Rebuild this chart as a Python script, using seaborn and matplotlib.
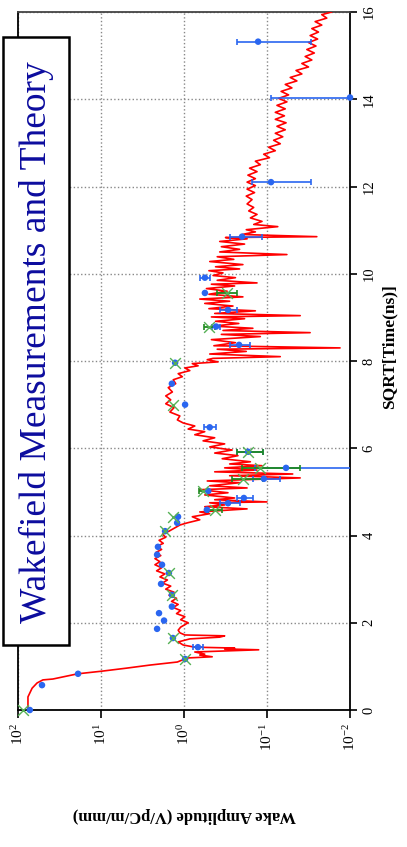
import numpy as np
import pandas as pd
import matplotlib
matplotlib.use("Agg")
import matplotlib.pyplot as plt
import seaborn as sns
from matplotlib.patches import Rectangle
from matplotlib.ticker import NullLocator

# ---------------- data ----------------
# theory curve: time axis (sqrt ns) and log10 of wake amplitude
theory_time = [
    0.00, 0.30, 0.50, 0.62, 0.69, 0.71, 0.83, 0.89, 0.96, 1.03, 1.10, 1.17,
    1.19, 1.22, 1.26, 1.28, 1.33, 1.38, 1.40, 1.42, 1.44, 1.49, 1.56, 1.63,
    1.67, 1.70, 1.72, 1.77, 1.83, 1.90, 2.00,
    2.07, 2.14, 2.21, 2.28, 2.35, 2.42, 2.49, 2.56, 2.63, 2.70, 2.77, 2.84,
    2.91, 2.98, 3.05, 3.12, 3.19, 3.26, 3.33, 3.40, 3.47, 3.54, 3.61, 3.68,
    3.75, 3.82, 3.89, 3.96, 4.03, 4.10,
    4.24, 4.29, 4.36, 4.43, 4.50, 4.54, 4.61, 4.66, 4.70, 4.75, 4.77, 4.82,
    4.86, 4.93, 4.98, 5.05, 5.09, 5.14, 5.21, 5.25, 5.32, 5.37, 5.41, 5.46,
    5.50, 5.55, 5.60, 5.64, 5.69, 5.76, 5.83, 5.89, 5.96, 6.03, 6.10, 6.17,
    6.24, 6.31, 6.38, 6.44, 6.51,
    6.58, 6.65, 6.74, 6.83, 6.93, 7.02, 7.11, 7.20, 7.29, 7.39, 7.48, 7.57,
    7.64, 7.71, 7.78, 7.84, 7.89, 7.94, 7.98, 8.03,
    8.06, 8.10, 8.16, 8.22, 8.27, 8.30, 8.35, 8.42, 8.49, 8.56, 8.61, 8.65,
    8.70, 8.75, 8.80, 8.86, 8.91, 8.97, 9.01, 9.04, 9.09, 9.15, 9.20, 9.26,
    9.32, 9.37, 9.42, 9.47, 9.53, 9.60, 9.66, 9.72, 9.76, 9.79, 9.85, 9.91,
    9.96, 10.02, 10.07, 10.11, 10.16, 10.21, 10.28, 10.33, 10.39, 10.44, 10.50, 10.56,
    10.62, 10.68, 10.74, 10.80, 10.83, 10.85, 10.90, 10.96, 11.01, 11.08, 11.13, 11.20,
    11.28, 11.36, 11.44, 11.52, 11.60, 11.70,
    11.78, 11.86, 11.94, 12.02, 12.10, 12.18, 12.26, 12.34, 12.42, 12.50, 12.58, 12.66,
    12.74, 12.82, 12.90, 12.98, 13.06, 13.14, 13.22, 13.30, 13.38, 13.46, 13.54, 13.62,
    13.70, 13.78, 13.86, 13.94, 14.02, 14.10, 14.18, 14.26, 14.34, 14.42, 14.50, 14.58,
    14.66, 14.74, 14.82, 14.90, 14.98, 15.06, 15.14, 15.22, 15.30, 15.38, 15.46, 15.54,
    15.62, 15.70, 15.78, 15.86, 15.94, 16.00,
]
theory_log10_amp = [
    1.88, 1.88, 1.83, 1.77, 1.70, 1.58, 1.28, 0.99, 0.69, 0.41, 0.08, -0.01,
    -0.01, -0.34, -0.19, -0.25, -0.13, -0.90, -0.49, -0.61, -0.13, 0.01, 0.07, -0.07,
    -0.43, -0.49, -0.01, 0.05, 0.07, 0.04, -0.05,
    0.04, -0.01, 0.09, 0.04, 0.13, 0.07, 0.15, 0.09, 0.18, 0.12, 0.22, 0.16,
    0.26, 0.20, 0.29, 0.23, 0.33, 0.27, 0.35, 0.29, 0.35, 0.28, 0.34, 0.27,
    0.33, 0.25, 0.30, 0.22, 0.26, 0.18,
    0.05, -0.04, -0.19, -0.10, -0.31, -0.19, -0.76, -0.25, -0.49, -0.31, -1.00, -0.37,
    -0.61, -0.25, -0.53, -0.19, -0.76, -0.31, -0.67, -0.28, -1.40, -0.55, -1.31, -0.37,
    -0.88, -0.49, -0.94, -0.55, -0.80, -0.46, -0.65, -0.37, -0.58, -0.31, -0.49, -0.23,
    -0.37, -0.13, -0.25, -0.05, -0.13,
    0.01, 0.08, 0.05, 0.17, 0.12, 0.22, 0.16, 0.22, 0.14, 0.19, 0.10, 0.13,
    0.02, 0.07, -0.07, -0.01, -0.17, -0.10, -0.41, -0.28,
    -0.35, -1.16, -0.31, -0.75, -0.40, -1.88, -0.36, -0.62, -0.33, -0.92, -0.45, -1.52,
    -0.47, -0.83, -0.35, -0.66, -0.38, -0.73, -0.33, -1.40, -0.37, -0.86, -0.30, -0.59,
    -0.25, -0.55, -0.19, -0.71, -0.30, -0.52, -0.27, -0.61, -0.33, -0.88, -0.40, -0.62,
    -0.35, -0.47, -0.30, -0.67, -0.38, -0.71, -0.31, -0.60, -0.40, -1.24, -0.43, -0.67,
    -0.45, -0.73, -0.43, -0.76, -0.50, -1.60, -0.70, -0.86, -0.75, -1.13, -0.84, -0.94,
    -0.80, -0.88, -0.78, -0.84, -0.76, -0.82,
    -0.75, -0.85, -0.76, -0.86, -0.76, -0.86, -0.77, -0.88, -0.79, -0.92, -0.86, -1.03,
    -0.96, -1.10, -1.02, -1.16, -1.08, -1.19, -1.10, -1.22, -1.12, -1.23, -1.10, -1.21,
    -1.10, -1.22, -1.12, -1.24, -1.14, -1.26, -1.17, -1.30, -1.22, -1.36, -1.28, -1.42,
    -1.35, -1.50, -1.42, -1.54, -1.46, -1.57, -1.48, -1.59, -1.50, -1.61, -1.52, -1.62,
    -1.54, -1.66, -1.58, -1.72, -1.66, -1.78,
]

# measurement set 1 (blue dots)
meas_time = [0.00, 0.57, 0.83, 1.17, 1.44, 1.65, 1.86, 2.05, 2.22, 2.37, 2.64, 2.89,
             3.14, 3.33, 3.56, 3.74, 4.10, 4.29, 4.43, 4.59, 4.74, 4.86, 5.02, 5.30,
             5.55, 5.92, 6.48, 7.00, 7.48, 7.96, 8.37, 8.79, 9.17, 9.56, 9.91, 10.85,
             12.10, 14.04, 15.32]
meas_amp = [72, 51.4, 18.9, 0.97, 0.68, 1.36, 2.11, 1.74, 2.0, 1.40, 1.40, 1.89,
            1.52, 1.84, 2.11, 2.06, 1.69, 1.21, 1.18, 0.53, 0.295, 0.19, 0.51, 0.109,
            0.059, 0.169, 0.49, 0.97, 1.40, 1.28, 0.217, 0.41, 0.295, 0.56, 0.56, 0.20,
            0.0895, 0.010, 0.128]
meas_amp_high = [72, 51.4, 18.9, 0.97, 0.78, 1.36, 2.11, 1.74, 2.0, 1.40, 1.40, 1.89,
                 1.52, 1.84, 2.11, 2.06, 1.69, 1.21, 1.18, 0.53, 0.37, 0.23, 0.51, 0.148,
                 0.14, 0.23, 0.57, 0.97, 1.40, 1.28, 0.279, 0.46, 0.37, 0.56, 0.64, 0.279,
                 0.152, 0.0895, 0.23]
meas_amp_low = [72, 51.4, 18.9, 0.97, 0.59, 1.36, 2.11, 1.74, 2.0, 1.40, 1.40, 1.89,
                1.52, 1.84, 2.11, 2.06, 1.69, 1.21, 1.18, 0.53, 0.21, 0.148, 0.51, 0.070,
                0.005, 0.112, 0.41, 0.97, 1.40, 1.28, 0.160, 0.37, 0.23, 0.56, 0.49, 0.115,
                0.0295, 0.001, 0.0295]

# measurement set 2 (green crosses)
alt_time = [0.00, 1.17, 1.65, 2.64, 3.14, 4.10, 4.43, 4.59, 5.02, 5.30, 5.55, 5.92,
            7.00, 7.96, 8.79, 9.56]
alt_amp = [87, 0.97, 1.36, 1.40, 1.52, 1.69, 1.36, 0.42, 0.59, 0.195, 0.121, 0.169,
           1.36, 1.28, 0.50, 0.30]
alt_amp_high = [87, 0.97, 1.36, 1.40, 1.52, 1.69, 1.36, 0.51, 0.66, 0.264, 0.20, 0.23,
                1.36, 1.28, 0.57, 0.40]
alt_amp_low = [87, 0.97, 1.36, 1.40, 1.52, 1.69, 1.36, 0.35, 0.52, 0.112, 0.040, 0.112,
               1.36, 1.28, 0.42, 0.23]

amp_ticks = [100, 10, 1, 0.1, 0.01]
time_ticks = [0, 2, 4, 6, 8, 10, 12, 14, 16]

title_text = "Wakefield Measurements and Theory"
amp_label = "Wake Amplitude (V/pC/m/mm)"
time_label = "SQRT[Time(ns)]"

# ---------------- style ----------------
sns.set_theme(style="white")
plt.rcParams['font.family'] = ['Liberation Serif', 'DejaVu Serif']
plt.rcParams['mathtext.fontset'] = 'custom'
plt.rcParams['mathtext.rm'] = 'Liberation Serif'
plt.rcParams['mathtext.it'] = 'Liberation Serif:italic'
plt.rcParams['mathtext.bf'] = 'Liberation Serif:bold'

BLUE = "#2a66f0"
GREEN_BAR = "#1f8a1f"
GREEN_X = "#55b055"

W, H = 407, 847
fig = plt.figure(figsize=(W / 100, H / 100), dpi=100)
fig.patch.set_facecolor("white")
ax = fig.add_axes([18 / W, 1 - 710 / H, 332 / W, 698 / H])

theory = pd.DataFrame({"t": theory_time,
                       "amp": 10 ** np.array(theory_log10_amp)})
sns.lineplot(data=theory, x="amp", y="t", sort=False, estimator=None,
             orient="y", color="red", linewidth=1.2, ax=ax, zorder=3)

m_t = np.array(meas_time); m_a = np.array(meas_amp)
m_hi = np.array(meas_amp_high); m_lo = np.array(meas_amp_low)
mask = (m_hi != m_a) | (m_lo != m_a)
ax.errorbar(m_a[mask], m_t[mask], xerr=[m_a[mask] - m_lo[mask], m_hi[mask] - m_a[mask]],
            fmt="none", ecolor=BLUE, elinewidth=1.2, capsize=2.5, capthick=1.2, zorder=4)

g_t = np.array(alt_time); g_a = np.array(alt_amp)
g_hi = np.array(alt_amp_high); g_lo = np.array(alt_amp_low)
gmask = (g_hi != g_a) | (g_lo != g_a)
ax.errorbar(g_a[gmask], g_t[gmask], xerr=[g_a[gmask] - g_lo[gmask], g_hi[gmask] - g_a[gmask]],
            fmt="none", ecolor=GREEN_BAR, elinewidth=1.3, capsize=2.5, capthick=1.2, zorder=4)

meas = pd.DataFrame({"t": meas_time, "amp": meas_amp})
sns.scatterplot(data=meas, x="amp", y="t", color=BLUE, marker="o", s=22,
                edgecolor="none", ax=ax, zorder=5, clip_on=False)
alt = pd.DataFrame({"t": alt_time, "amp": alt_amp})
sns.scatterplot(data=alt, x="amp", y="t", color=GREEN_X, marker="x", s=60,
                linewidth=1.0, ax=ax, zorder=6, clip_on=False)

ax.set_xscale("log")
ax.set_xlim(100, 0.01)
ax.set_ylim(0, 16)
ax.set_xticks(amp_ticks)
ax.xaxis.set_minor_locator(NullLocator())
ax.set_yticks(time_ticks)
ax.yaxis.tick_right()
ax.set_xlabel("")
ax.set_ylabel("")
ax.grid(True, which="major", linestyle=":", color="#888888", linewidth=1.0)
ax.tick_params(axis="x", direction="out", length=6, width=1.2, labelrotation=90,
               pad=3, labelsize=11, colors="black", bottom=True)
ax.tick_params(axis="y", direction="out", length=5, width=1.2, labelrotation=90,
               pad=4, labelsize=10.5, colors="black", right=True, left=False)
for lab in ax.get_yticklabels():
    lab.set_verticalalignment("center")
for sp in ax.spines.values():
    sp.set_visible(True)
    sp.set_color("black")
    sp.set_linewidth(1.3)
ax.spines["top"].set_color("#444444")

# axis titles (rotated like the reference)
fig.text(184 / W, 1 - 815 / H, amp_label, rotation=180, ha="center", va="center",
         fontsize=12, fontweight="bold", color="black")
fig.text(389 / W, 1 - 347 / H, time_label, rotation=90, ha="center", va="center",
         fontsize=12.5, fontweight="bold", color="black")

# title box
rect = Rectangle((3 / W, 1 - 645 / H), 66 / W, 608 / H, transform=fig.transFigure,
                 facecolor="white", edgecolor="black", linewidth=1.8, zorder=10)
fig.add_artist(rect)
fig.text(36 / W, 1 - 342 / H, title_text, rotation=90, ha="center", va="center",
         fontsize=27, color="#0c0c9e", zorder=11)

fig.savefig("out.png", dpi=100, facecolor="white")
